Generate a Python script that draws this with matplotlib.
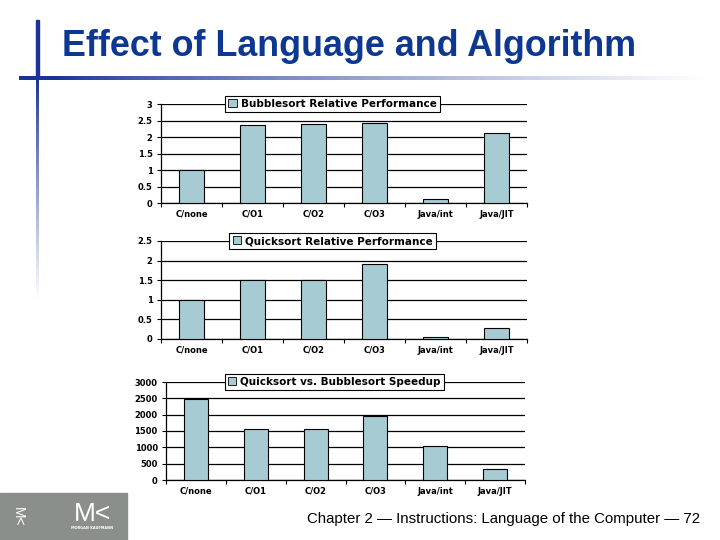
import numpy as np
import matplotlib
matplotlib.use("Agg")
import matplotlib.pyplot as plt
from matplotlib.patches import Patch, Rectangle

categories = ["C/none", "C/O1", "C/O2", "C/O3", "Java/int", "Java/JIT"]

bubble_rel = [1.0, 2.37, 2.38, 2.41, 0.12, 2.13]
quick_rel = [1.0, 1.50, 1.50, 1.91, 0.05, 0.29]
speedup = [2468, 1562, 1555, 1955, 1050, 338]

bubble_ticks = [0, 0.5, 1, 1.5, 2, 2.5, 3]
quick_ticks = [0, 0.5, 1, 1.5, 2, 2.5]
speedup_ticks = [0, 500, 1000, 1500, 2000, 2500, 3000]

panels = [
    ("Bubblesort Relative Performance", bubble_rel, bubble_ticks,
     [161 / 720, 1 - 203 / 540, 366 / 720, 99 / 540]),
    ("Quicksort Relative Performance", quick_rel, quick_ticks,
     [161 / 720, 1 - 339 / 540, 366 / 720, 98 / 540]),
    ("Quicksort vs. Bubblesort Speedup", speedup, speedup_ticks,
     [166 / 720, 1 - 480 / 540, 359 / 720, 98 / 540]),
]

BAR_COLOR = "#A6CBD3"
TITLE_BLUE = "#0C3892"

fig = plt.figure(figsize=(7.2, 5.4), dpi=100)
fig.patch.set_facecolor("white")

# slide decoration in pixel coordinates
bg = fig.add_axes([0, 0, 1, 1])
bg.set_xlim(0, 720)
bg.set_ylim(540, 0)
bg.axis("off")

blue = np.array([0.10, 0.20, 0.58])
white = np.array([1.0, 1.0, 1.0])

t = np.linspace(0, 1, 256)
hgrad = np.array([blue * (1 - v) + white * v for v in np.clip((t - 0.05) / 0.95, 0, 1) ** 0.8])
bg.imshow(hgrad[np.newaxis, :, :], extent=[19, 705, 80, 76], aspect="auto", zorder=1)

vgrad = np.array([blue * (1 - v) + white * v for v in np.clip(t, 0, 1) ** 0.9])
bg.imshow(vgrad[:, np.newaxis, :], extent=[36, 39, 300, 78], aspect="auto", zorder=1)
bg.add_patch(Rectangle((36, 20), 3, 58, color=blue, zorder=1))

bg.text(62, 47, "Effect of Language and Algorithm", fontsize=25.8, fontweight="bold",
        color=TITLE_BLUE, family="Liberation Sans", va="center", ha="left")

# publisher logo block
bg.add_patch(Rectangle((0, 493), 127, 47, color="#8B8F8C", zorder=1))
bg.text(92, 514, "M<", fontsize=19, color="white", family="Liberation Sans",
        ha="center", va="center")
bg.text(92, 528, "MORGAN KAUFMANN", fontsize=2.5, color="white",
        fontweight="bold", ha="center", va="center")
bg.text(18, 517, "M<", fontsize=10, color="white", family="Liberation Sans",
        ha="center", va="center", rotation=-90)

bg.text(700, 519, "Chapter 2 \u2014 Instructions: Language of the Computer \u2014 72",
        fontsize=10.8, family="Liberation Sans", ha="right", va="center")

x = np.arange(len(categories))
for title, values, ticks, rect in panels:
    ax = fig.add_axes(rect)
    ax.bar(x, values, width=0.4, color=BAR_COLOR, edgecolor="black", linewidth=0.8, zorder=3)
    ax.set_xlim(-0.5, len(categories) - 0.5)
    ax.set_ylim(0, ticks[-1])
    ax.set_yticks(ticks)
    ax.set_yticklabels([f"{v:g}" for v in ticks])
    ax.yaxis.grid(True, color="black", linewidth=0.9, zorder=0)
    ax.set_axisbelow(True)
    ax.set_xticks(x)
    ax.set_xticklabels(categories)
    ax.set_xticks(np.arange(-0.5, len(categories)), minor=True)
    ax.tick_params(axis="x", which="major", length=0, pad=5)
    ax.tick_params(axis="x", which="minor", length=3, width=0.8, direction="out")
    ax.tick_params(axis="y", length=3, width=0.8, direction="out", pad=3)
    for lab in ax.get_xticklabels() + ax.get_yticklabels():
        lab.set_fontsize(6)
        lab.set_fontweight("bold")
    for side in ["top", "right"]:
        ax.spines[side].set_visible(False)
    ax.spines["left"].set_linewidth(0.9)
    ax.spines["bottom"].set_linewidth(0.9)
    ax.set_facecolor("none")

    leg = ax.legend(handles=[Patch(facecolor=BAR_COLOR, edgecolor="black", linewidth=0.6)],
                    labels=[title], loc="center", bbox_to_anchor=(0.469, 1.0),
                    fancybox=False, framealpha=1, edgecolor="black",
                    prop={"size": 7.5, "weight": "bold"}, handlelength=0.8,
                    handleheight=0.8, handletextpad=0.4, borderpad=0.3,
                    borderaxespad=0)
    leg.get_frame().set_linewidth(0.8)
    leg.set_zorder(5)

plt.savefig("out.png", dpi=100)
plt.close()
